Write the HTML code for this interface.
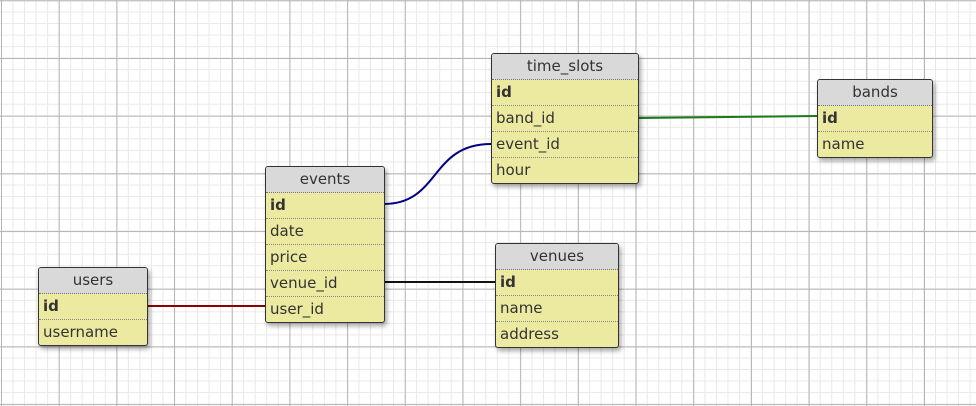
<!DOCTYPE html>
<html><head><style>
body{margin:0;width:976px;height:406px;overflow:hidden;background:#fff;font-family:"DejaVu Sans","Liberation Sans",sans-serif;}
#grid{position:absolute;left:0;top:0;width:976px;height:406px;
background-image:
linear-gradient(to right,#b4b4b4 1px,transparent 1px),
linear-gradient(to bottom,#b4b4b4 1px,transparent 1px),
linear-gradient(to right,#e8e8e8 1px,transparent 1px),
linear-gradient(to bottom,#e8e8e8 1px,transparent 1px);
background-size:57.7px 57.7px,57.7px 57.7px,11.54px 11.54px,11.54px 11.54px;
background-position:1px 0,0 58px,1px 0,0 0;}
.t{position:absolute;border:1px solid #333;border-radius:3px;background:#ece9a0;box-shadow:2px 3px 5px rgba(0,0,0,.35);overflow:hidden;font-size:15px;color:#333;}
.h{background:#d9d9d9;height:25px;line-height:25px;text-align:center;border-bottom:1px dotted #777;}
.r{height:25px;line-height:25px;padding-left:4px;border-bottom:1px dotted #888;}
.r:last-child{border-bottom:none}
.b{font-weight:bold}
svg{position:absolute;left:0;top:0}
</style></head><body>
<div id="grid"></div>
<svg width="976" height="406">
<path d="M147 306 L265 306" stroke="#8b0000" stroke-width="2" fill="none"/>
<path d="M384 282 L495 282" stroke="#111" stroke-width="2" fill="none"/>
<path d="M384 204 C440 204 430 144 491 144" stroke="#000080" stroke-width="2" fill="none"/>
<path d="M638 118 L817 116" stroke="#1a7a1a" stroke-width="2" fill="none"/>
</svg>
<div class="t" style="left:491px;top:53px;width:146px;"><div class="h">time_slots</div><div class="r b">id</div><div class="r">band_id</div><div class="r">event_id</div><div class="r">hour</div></div>
<div class="t" style="left:817px;top:79px;width:114px;"><div class="h">bands</div><div class="r b">id</div><div class="r">name</div></div>
<div class="t" style="left:265px;top:166px;width:118px;"><div class="h">events</div><div class="r b">id</div><div class="r">date</div><div class="r">price</div><div class="r">venue_id</div><div class="r">user_id</div></div>
<div class="t" style="left:495px;top:243px;width:122px;"><div class="h">venues</div><div class="r b">id</div><div class="r">name</div><div class="r">address</div></div>
<div class="t" style="left:38px;top:267px;width:108px;"><div class="h">users</div><div class="r b">id</div><div class="r">username</div></div>
</body></html>
